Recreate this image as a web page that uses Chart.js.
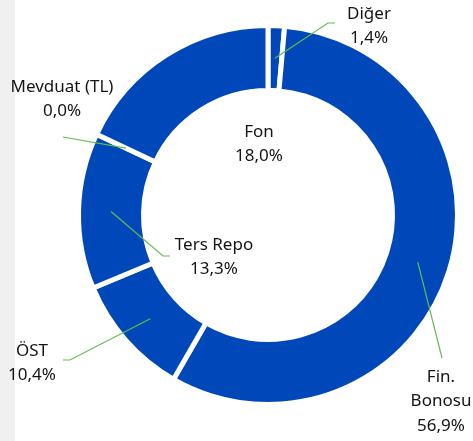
<!DOCTYPE html>
<html>
<head>
<meta charset="utf-8">
<script src="https://cdn.jsdelivr.net/npm/chart.js@4.4.0/dist/chart.umd.min.js"></script>
<style>
	body { margin: 0; background: #fff; }
</style>
</head>
<body>
<canvas id="doughChart" width="473" height="441"></canvas>
<script>
var categories = ['Diğer', 'Fin. Bonosu', 'ÖST', 'Ters Repo', 'Mevduat (TL)', 'Fon'];
var shares = [1.4, 56.9, 10.4, 13.3, 0.0, 18.0];
var labelRows = [['Diğer'], ['Fin.', 'Bonosu'], ['ÖST'], ['Ters Repo'], ['Mevduat (TL)'], ['Fon']];

// label spots as they sit in the excel export: centre of first text row + leader line bends
var labelSpots = [
	{x: 369, y: 14, bends: [[328, 23], [335, 23]]},
	{x: 441, y: 377, bends: [[442, 358]]},
	{x: 32, y: 351, bends: [[70, 360], [63, 360]]},
	{x: 214, y: 245, bends: [[163, 256], [170, 256]]},
	{x: 62, y: 87, bends: [[63, 137]]},
	{x: 259, y: 132, bends: null}
];

const BLUE = '#0048BA';
const LINE_GREEN = '#62BD4F';
const TEXT_COLOR = '#141414';
const FONT = '17px "Noto Sans"';
const ROW_H = 24.5;

function pct(v) {
	return v.toFixed(1).replace('.', ',') + '%';
}

var sidePanel = {
	id: 'sidePanel',
	beforeDraw: function(chart) {
		var ctx = chart.ctx;
		ctx.save();
		ctx.fillStyle = '#F0F0F0';
		ctx.fillRect(0, 0, 15, chart.height);
		ctx.restore();
	}
};

var sliceLabels = {
	id: 'sliceLabels',
	afterDatasetsDraw: function(chart) {
		var ctx = chart.ctx;
		var arcs = chart.getDatasetMeta(0).data;
		ctx.save();
		for (var i = 0; i < arcs.length; i++) {
			var a = arcs[i].getProps(['x', 'y', 'startAngle', 'endAngle', 'innerRadius', 'outerRadius'], true);
			var spot = labelSpots[i];
			if (spot.bends) {
				var mid = (a.startAngle + a.endAngle) / 2;
				var r = (a.innerRadius + a.outerRadius) / 2;
				ctx.beginPath();
				ctx.moveTo(a.x + Math.cos(mid) * r, a.y + Math.sin(mid) * r);
				for (var j = 0; j < spot.bends.length; j++) {
					ctx.lineTo(spot.bends[j][0], spot.bends[j][1]);
				}
				ctx.strokeStyle = LINE_GREEN;
				ctx.lineWidth = 1.2;
				ctx.stroke();
			}
			var rows = labelRows[i].concat([pct(shares[i])]);
			ctx.fillStyle = TEXT_COLOR;
			ctx.font = FONT;
			ctx.textAlign = 'center';
			ctx.textBaseline = 'middle';
			for (var k = 0; k < rows.length; k++) {
				ctx.fillText(rows[k], spot.x, spot.y + k * ROW_H);
			}
		}
		ctx.restore();
	}
};

var myChart = new Chart(document.getElementById('doughChart'), {
	type: 'doughnut',
	data: {
		labels: categories,
		datasets: [{
			data: shares,
			backgroundColor: BLUE,
			borderColor: '#ffffff',
			borderWidth: 5
		}]
	},
	options: {
		responsive: false,
		animation: false,
		events: [],
		cutout: '65.7%',
		layout: {
			padding: {top: 23, bottom: 34, left: 76, right: 13}
		},
		plugins: {
			legend: {display: false},
			tooltip: {enabled: false}
		}
	},
	plugins: [sidePanel, sliceLabels]
});
</script>
</body>
</html>
